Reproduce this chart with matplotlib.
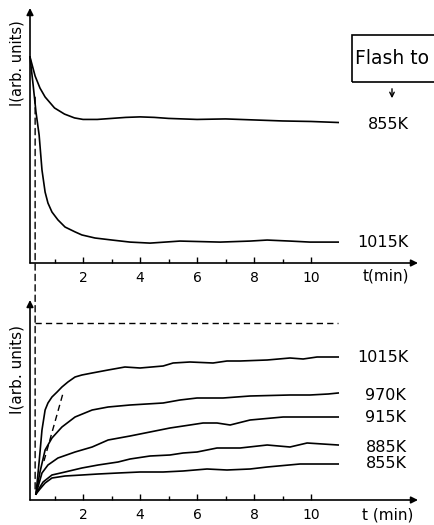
import matplotlib
matplotlib.use("Agg")
import matplotlib.pyplot as plt
from matplotlib.patches import Rectangle, ConnectionPatch, FancyArrowPatch

# ---------------- data (t in min, I in arbitrary units) ----------------
# upper panel: intensity decay after flash
top_t_855 = [0.14, 0.32, 0.49, 0.67, 1.0, 1.35, 1.7, 2.0, 2.5, 3.0, 3.5, 4.0, 4.5, 5.0,
             6.0, 7.0, 8.0, 9.0, 10.0, 10.95]
top_I_855 = [8.08, 7.33, 6.86, 6.51, 6.08, 5.84, 5.69, 5.63, 5.63, 5.67, 5.71, 5.73, 5.71, 5.67,
             5.63, 5.65, 5.61, 5.57, 5.55, 5.51]
top_t_1015 = [0.14, 0.25, 0.35, 0.46, 0.56, 0.67, 0.77, 0.91, 1.12, 1.37, 1.72, 1.96, 2.42,
              3.02, 3.65, 4.35, 5.40, 6.81, 7.86, 8.46, 9.26, 9.96, 10.95]
top_I_1015 = [8.08, 6.98, 5.92, 5.02, 3.65, 2.78, 2.35, 2.00, 1.69, 1.41, 1.22, 1.10, 0.98,
              0.90, 0.82, 0.78, 0.86, 0.82, 0.86, 0.90, 0.86, 0.82, 0.82]
top_labels = ["855K", "1015K"]
top_label_pos = [(12.0, 5.45), (11.61, 0.82)]

# lower panel: intensity rise
bot_t_1015 = [0.35, 0.46, 0.56, 0.67, 0.77, 0.91, 1.09, 1.26, 1.47, 1.72, 1.96, 2.32, 2.88,
              3.47, 4.00, 4.81, 5.16, 5.75, 6.56, 7.05, 7.51, 8.46, 9.26, 9.72, 10.21, 10.95]
bot_I_1015 = [0.24, 1.52, 2.80, 3.60, 3.88, 4.12, 4.32, 4.52, 4.72, 4.92, 5.00, 5.08, 5.20,
              5.32, 5.28, 5.36, 5.48, 5.52, 5.48, 5.56, 5.56, 5.60, 5.68, 5.64, 5.72, 5.72]
bot_t_970 = [0.35, 0.49, 0.67, 0.91, 1.26, 1.72, 2.32, 2.88, 3.65, 4.81, 5.40, 6.00, 6.91,
             7.86, 9.26, 9.96, 10.60, 10.95]
bot_I_970 = [0.24, 1.12, 2.00, 2.48, 2.92, 3.32, 3.60, 3.72, 3.80, 3.88, 4.00, 4.08, 4.08,
             4.16, 4.20, 4.20, 4.24, 4.28]
bot_t_915 = [0.35, 0.56, 0.77, 1.12, 1.72, 2.32, 2.88, 3.65, 4.35, 5.05, 5.75, 6.21, 6.70,
             7.16, 7.86, 9.02, 9.96, 10.95]
bot_I_915 = [0.24, 1.08, 1.40, 1.68, 1.92, 2.12, 2.40, 2.56, 2.72, 2.88, 3.00, 3.08, 3.08,
             3.00, 3.20, 3.32, 3.32, 3.32]
bot_t_885 = [0.35, 0.49, 0.60, 0.91, 1.37, 1.96, 2.53, 3.23, 3.65, 4.35, 5.05, 5.51, 6.00,
             6.70, 7.51, 8.46, 9.26, 9.86, 10.95]
bot_I_885 = [0.24, 0.52, 0.72, 1.00, 1.12, 1.28, 1.40, 1.52, 1.64, 1.76, 1.80, 1.88, 1.92,
             2.08, 2.08, 2.20, 2.12, 2.28, 2.20]
bot_t_855 = [0.35, 0.49, 0.67, 0.91, 1.37, 1.96, 2.53, 3.23, 4.00, 4.81, 5.51, 6.35, 7.05,
             7.86, 8.46, 9.61, 10.95]
bot_I_855 = [0.24, 0.44, 0.68, 0.88, 0.96, 1.00, 1.04, 1.08, 1.12, 1.12, 1.16, 1.24, 1.20,
             1.24, 1.32, 1.44, 1.44]
bot_labels = ["1015K", "970K", "915K", "885K", "855K"]
bot_label_pos = [(11.61, 5.72), (11.89, 4.2), (11.89, 3.28), (11.93, 2.12), (11.93, 1.44)]

# reference lines
flash_t = 0.32                 # time of the flash (vertical dashed line)
flash_top_I = 6.5
flash_bot_I = 0.4
sat_I = 7.08                   # horizontal dashed saturation level (lower panel)
sat_t = [0.32, 10.95]
tangent_t = [0.63, 1.30]
tangent_I = [1.56, 4.28]

major_ticks = [2, 4, 6, 8, 10]
minor_ticks = [1, 3, 5, 7, 9]
xlim = (0.14, 13.75)

# ---------------- figure ----------------
W, H = 434, 525
fig = plt.figure(figsize=(W / 100, H / 100), dpi=100)
plt.rcParams['font.family'] = ['DejaVu Sans']

lw = 1.2
ax1 = fig.add_axes([30 / W, (H - 263) / H, 388 / W, 255 / H])
ax2 = fig.add_axes([30 / W, (H - 500) / H, 388 / W, 200 / H])
ax1.set_ylim(0, 10)
ax2.set_ylim(0, 8)

for ax in (ax1, ax2):
    ax.set_xlim(*xlim)
    for s in ax.spines.values():
        s.set_visible(False)
    ax.set_yticks([])
    ax.set_xticks(major_ticks)
    ax.set_xticks(minor_ticks, minor=True)
    ax.tick_params(axis='x', which='major', direction='in', length=4, width=1,
                   pad=6, labelsize=10)
    ax.tick_params(axis='x', which='minor', direction='in', length=3, width=1)
    ax.patch.set_alpha(0)
    # axis lines with arrowheads
    ax.annotate("", xy=(1, 0), xytext=(0, 0), xycoords='axes fraction',
                arrowprops=dict(arrowstyle='-|>', lw=1.2, color='k',
                                shrinkA=0, shrinkB=0, mutation_scale=10))
    ax.annotate("", xy=(0, 1), xytext=(0, 0), xycoords='axes fraction',
                arrowprops=dict(arrowstyle='-|>', lw=1.2, color='k',
                                shrinkA=0, shrinkB=0, mutation_scale=10))

ax1.text(-0.034, 0.784, "I(arb. units)", rotation=90, transform=ax1.transAxes,
         ha='center', va='center', fontsize=10.5)
ax2.text(-0.034, 0.65, "I(arb. units)", rotation=90, transform=ax2.transAxes,
         ha='center', va='center', fontsize=11)
ax1.text(11.82, -0.5, "t(min)", ha='left', va='center', fontsize=11)
ax2.text(11.79, -0.62, "t (min)", ha='left', va='center', fontsize=11)

# upper curves
ax1.plot(top_t_855, top_I_855, color='k', lw=lw, clip_on=False)
ax1.plot(top_t_1015, top_I_1015, color='k', lw=lw, clip_on=False)
for lab, (x, y) in zip(top_labels, top_label_pos):
    ax1.text(x, y, lab, ha='left', va='center', fontsize=11.5)

# lower curves
for tt, ii in [(bot_t_1015, bot_I_1015), (bot_t_970, bot_I_970), (bot_t_915, bot_I_915),
               (bot_t_885, bot_I_885), (bot_t_855, bot_I_855)]:
    ax2.plot(tt, ii, color='k', lw=lw, clip_on=False)
for lab, (x, y) in zip(bot_labels, bot_label_pos):
    ax2.text(x, y, lab, ha='left', va='center', fontsize=11.5)

# dashed references
dash = (0, (4.5, 3))
ax2.plot(sat_t, [sat_I, sat_I], color='k', lw=1.0, linestyle=dash)
ax2.plot(tangent_t, tangent_I, color='k', lw=1.0, linestyle=dash)
con = ConnectionPatch(xyA=(flash_t, flash_top_I), coordsA=ax1.transData,
                      xyB=(flash_t, flash_bot_I), coordsB=ax2.transData,
                      color='k', lw=1.0, linestyle=dash)
fig.add_artist(con)

# "Flash to" box (runs off the right edge as in the original)
fig.add_artist(Rectangle((352 / W, (H - 82) / H), 100 / W, 47 / H,
                         transform=fig.transFigure, fill=False, lw=1.2, ec='k'))
fig.text(355 / W, (H - 59) / H, "Flash to", ha='left', va='center', fontsize=13.5)
fig.add_artist(FancyArrowPatch(
    (392 / W, (H - 86) / H), (392 / W, (H - 101) / H), transform=fig.transFigure,
    arrowstyle='->', mutation_scale=8, lw=1.0, color='k'))

fig.savefig("out.png", dpi=100)
